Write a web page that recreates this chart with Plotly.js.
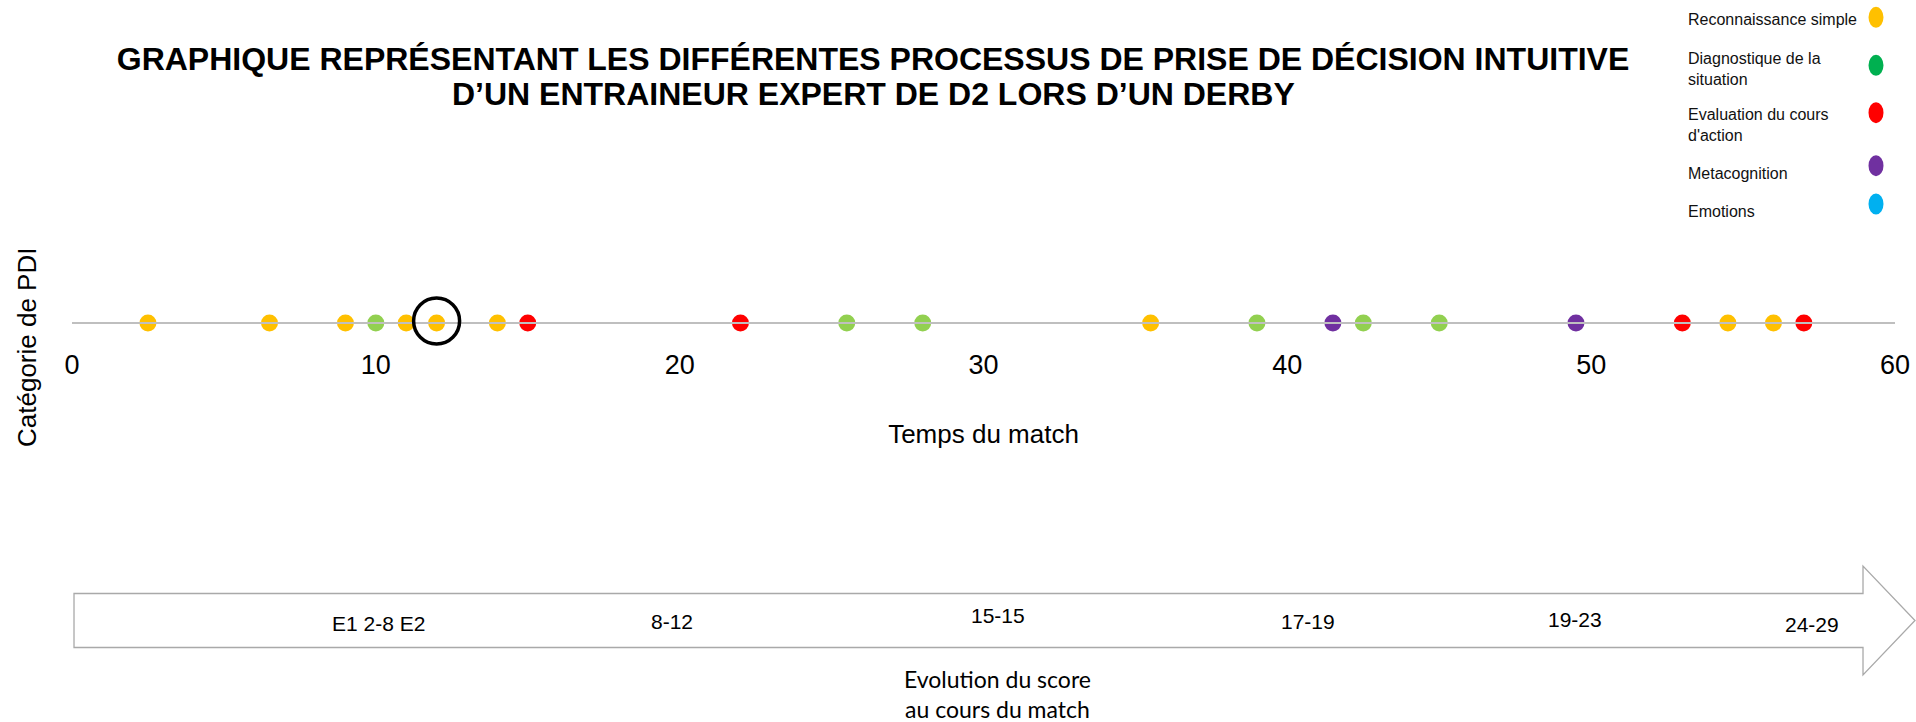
<!DOCTYPE html>
<html>
<head>
<meta charset="utf-8">
<script src="https://cdn.plot.ly/plotly-3.0.1.min.js"></script>
<style>
  html, body { margin: 0; padding: 0; background: #ffffff; }
  #chart { width: 1916px; height: 722px; }
</style>
</head>
<body>
<div id="chart"></div>
<script>
// ---------- DATA ----------
const categories = ['Reconnaissance simple', 'Diagnostique de la situation', "Evaluation du cours d'action", 'Metacognition', 'Emotions'];
const reconnaissanceTimes = [2.5, 6.5, 9, 11, 12, 14, 35.5, 54.5, 56];
const diagnostiqueTimes = [10, 25.5, 28, 39, 42.5, 45];
const evaluationTimes = [15, 22, 53, 57];
const metacognitionTimes = [41.5, 49.5];
const emotionsTimes = [];
const highlightedTime = 12;
const xTickValues = [0, 10, 20, 30, 40, 50, 60];
const xTickLabels = ['0', '10', '20', '30', '40', '50', '60'];
const scoreLabels = ['E1 2-8 E2', '8-12', '15-15', '17-19', '19-23', '24-29'];
const titleLines = ['GRAPHIQUE REPRÉSENTANT LES DIFFÉRENTES PROCESSUS DE PRISE DE DÉCISION INTUITIVE', 'D’UN ENTRAINEUR EXPERT DE D2 LORS D’UN DERBY'];
const xTitle = 'Temps du match';
const yTitle = 'Catégorie de PDI';
const scoreTitle = ['Evolution du score', 'au cours du match'];

// ---------- STYLE / GEOMETRY ----------
const W = 1916, H = 722, ML = 72, MR = 21, MT = 223, MB = 299;
const pw = W - ML - MR, ph = H - MT - MB;
const fx = px => (px - ML) / pw;
const fy = py => (H - MB - py) / ph;
const FONT = 'Liberation Sans, Arial, sans-serif';

const seriesTimes = [reconnaissanceTimes, diagnostiqueTimes, evaluationTimes, metacognitionTimes, emotionsTimes];
const dotColors = ['#FFC000', '#92D050', '#FF0000', '#7030A0', '#00B0F0'];
const legendColors = ['#FFC000', '#00B050', '#FF0000', '#7030A0', '#00B0F0'];

function wrap(s, maxChars) {
  const words = s.split(' ');
  const lines = [];
  let cur = '';
  words.forEach(w => {
    const test = cur ? cur + ' ' + w : w;
    if (test.length > maxChars && cur) { lines.push(cur); cur = w; } else { cur = test; }
  });
  if (cur) lines.push(cur);
  return lines.join('<br>');
}

const traces = categories.map((name, i) => ({
  type: 'scatter',
  mode: 'markers',
  name: name,
  x: seriesTimes[i],
  y: seriesTimes[i].map(() => 0),
  marker: { color: dotColors[i], size: 17, line: { width: 0 } },
  cliponaxis: false,
  showlegend: false,
  hoverinfo: 'x+name'
}));

const shapes = [];
// highlight circle around one point
shapes.push({
  type: 'circle', xref: 'x', yref: 'y',
  xsizemode: 'pixel', xanchor: highlightedTime, x0: -23, x1: 23,
  ysizemode: 'pixel', yanchor: 0, y0: -21, y1: 25,
  line: { color: '#000000', width: 3.5 }, fillcolor: 'rgba(0,0,0,0)', layer: 'above'
});
// score arrow
const P = (px, py) => fx(px).toFixed(5) + ',' + fy(py).toFixed(5);
const arrowPath = 'M' + P(74, 593.5) + ' L' + P(1863, 593.5) + ' L' + P(1863, 566) + ' L' + P(1915, 620.5) +
  ' L' + P(1863, 675) + ' L' + P(1863, 647.5) + ' L' + P(74, 647.5) + ' Z';
shapes.push({
  type: 'path', xref: 'paper', yref: 'paper', path: arrowPath,
  line: { color: '#A9A9A9', width: 1.3 }, fillcolor: '#FFFFFF', layer: 'below'
});
// legend dots
const legendDotY = [17.3, 65.3, 112.7, 165.7, 204];
categories.forEach((c, i) => {
  shapes.push({
    type: 'circle', xref: 'paper', yref: 'paper',
    x0: fx(1868.5), x1: fx(1883.5), y0: fy(legendDotY[i] + 10.5), y1: fy(legendDotY[i] - 10.5),
    fillcolor: legendColors[i], line: { width: 0 }
  });
});

const annotations = [];
// second title line
annotations.push({
  xref: 'paper', yref: 'paper', x: fx(873), y: fy(94),
  xanchor: 'center', yanchor: 'middle', showarrow: false,
  text: titleLines[1], font: { family: FONT, size: 32, color: '#000000', weight: 'bold' }
});
// legend texts
const legendTextY = [20, 68.5, 125.5, 173.3, 211];
categories.forEach((c, i) => {
  annotations.push({
    xref: 'paper', yref: 'paper', x: fx(1686), y: fy(legendTextY[i]),
    xanchor: 'left', yanchor: 'middle', align: 'left', showarrow: false,
    text: wrap(c, 21), font: { family: FONT, size: 16, color: '#111111' }
  });
});
// y title
annotations.push({
  xref: 'paper', yref: 'paper', x: fx(27), y: fy(348), textangle: -90,
  xanchor: 'center', yanchor: 'middle', showarrow: false,
  text: yTitle, font: { family: FONT, size: 26, color: '#000000' }
});
// score labels
const scorePos = [[378, 623], [672, 621], [998, 615], [1308, 621], [1575, 619], [1812, 624]];
scoreLabels.forEach((s, i) => {
  annotations.push({
    xref: 'paper', yref: 'paper', x: fx(scorePos[i][0]), y: fy(scorePos[i][1]),
    xanchor: 'center', yanchor: 'middle', showarrow: false,
    text: s, font: { family: FONT, size: 21, color: '#000000' }
  });
});
annotations.push({
  xref: 'paper', yref: 'paper', x: fx(997), y: fy(694),
  xanchor: 'center', yanchor: 'middle', showarrow: false, align: 'center',
  text: scoreTitle.join('<br>'), font: { family: 'Lato, Carlito, sans-serif', size: 23, color: '#000000' }
});

const layout = {
  width: W, height: H,
  margin: { l: ML, r: MR, t: MT, b: MB, pad: 0 },
  paper_bgcolor: '#FFFFFF', plot_bgcolor: '#FFFFFF',
  showlegend: false,
  title: {
    text: titleLines[0],
    font: { family: FONT, size: 32, color: '#000000', weight: 'bold' },
    xref: 'container', yref: 'container',
    x: 873 / W, xanchor: 'center', y: 1 - 58.7 / H, yanchor: 'middle'
  },
  xaxis: {
    range: [0, 60], anchor: 'free', position: 0.5,
    showgrid: false, zeroline: false,
    showline: true, linecolor: '#BFBFBF', linewidth: 2,
    ticks: '', tickvals: xTickValues, ticktext: xTickLabels,
    ticklabelstandoff: 18,
    tickfont: { family: FONT, size: 27, color: '#000000' },
    title: { text: xTitle, standoff: 44, font: { family: FONT, size: 26, color: '#000000' } },
    automargin: false, fixedrange: true
  },
  yaxis: {
    range: [-1, 1], visible: false, showgrid: false, zeroline: false, fixedrange: true
  },
  shapes: shapes,
  annotations: annotations
};

Plotly.newPlot('chart', traces, layout, { displayModeBar: false, staticPlot: true });
</script>
</body>
</html>
